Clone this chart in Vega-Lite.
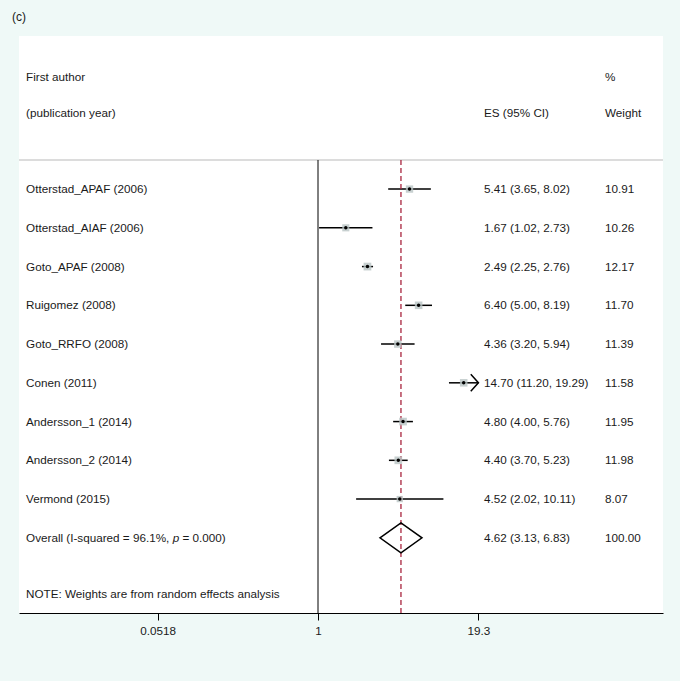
{
  "$schema": "https://vega.github.io/schema/vega-lite/v6.json",
  "width": 644,
  "height": 577,
  "autosize": {"type": "none"},
  "padding": {"left": 19, "top": 36, "right": 17, "bottom": 68},
  "background": "#eff9f7",
  "title": {"text": "(c)", "anchor": "start", "frame": "group", "dx": -7, "offset": 12, "fontSize": 12, "fontWeight": "normal", "color": "#1a1a1a", "font": "Liberation Sans"},
  "config": {
    "view": {"fill": "white", "stroke": null},
    "font": "Liberation Sans",
    "text": {"font": "Liberation Sans", "fontSize": 11.7, "color": "#1a1a1a", "align": "left", "baseline": "middle"},
    "axisX": {"grid": false, "domainColor": "#000000", "domainWidth": 1, "tickColor": "#000000", "tickWidth": 1, "tickSize": 7, "labelFont": "Liberation Sans", "labelFontSize": 11.7, "labelColor": "#1a1a1a", "labelPadding": 5, "labelFlush": false, "labelOverlap": false}
  },
  "datasets": {
    "studies": [
      {"label": "Otterstad_APAF (2006)", "r": 1, "es": 5.41, "lo": 3.65, "hi": 8.02, "weight": 10.91, "ci": "5.41 (3.65, 8.02)", "wt": "10.91"},
      {"label": "Otterstad_AIAF (2006)", "r": 2, "es": 1.67, "lo": 1.02, "hi": 2.73, "weight": 10.26, "ci": "1.67 (1.02, 2.73)", "wt": "10.26"},
      {"label": "Goto_APAF (2008)", "r": 3, "es": 2.49, "lo": 2.25, "hi": 2.76, "weight": 12.17, "ci": "2.49 (2.25, 2.76)", "wt": "12.17"},
      {"label": "Ruigomez (2008)", "r": 4, "es": 6.40, "lo": 5.00, "hi": 8.19, "weight": 11.70, "ci": "6.40 (5.00, 8.19)", "wt": "11.70"},
      {"label": "Goto_RRFO (2008)", "r": 5, "es": 4.36, "lo": 3.20, "hi": 5.94, "weight": 11.39, "ci": "4.36 (3.20, 5.94)", "wt": "11.39"},
      {"label": "Conen (2011)", "r": 6, "es": 14.70, "lo": 11.20, "hi": 19.29, "weight": 11.58, "ci": "14.70 (11.20, 19.29)", "wt": "11.58"},
      {"label": "Andersson_1 (2014)", "r": 7, "es": 4.80, "lo": 4.00, "hi": 5.76, "weight": 11.95, "ci": "4.80 (4.00, 5.76)", "wt": "11.95"},
      {"label": "Andersson_2 (2014)", "r": 8, "es": 4.40, "lo": 3.70, "hi": 5.23, "weight": 11.98, "ci": "4.40 (3.70, 5.23)", "wt": "11.98"},
      {"label": "Vermond (2015)", "r": 9, "es": 4.52, "lo": 2.02, "hi": 10.11, "weight": 8.07, "ci": "4.52 (2.02, 10.11)", "wt": "8.07"}
    ],
    "overall": [
      {"label": "Overall (I-squared = 96.1%,", "r": 10, "es": 4.62, "lo": 3.13, "hi": 6.83, "weight": 100.0, "ci": "4.62 (3.13, 6.83)", "wt": "100.00"}
    ]
  },
  "layer": [
    {
      "data": {"values": [{"r": 0.25}]},
      "mark": {"type": "rule", "color": "#dcdcdc", "strokeWidth": 2},
      "encoding": {
        "y": {"field": "r", "type": "quantitative", "scale": {"domain": [-2.95, 11.94], "reverse": true, "nice": false, "zero": false}, "axis": null}
      }
    },
    {
      "data": {"name": "studies"},
      "mark": {"type": "rule", "color": "#000000", "strokeWidth": 1.5},
      "encoding": {
        "x": {"field": "lo", "type": "quantitative", "title": null, "scale": {"type": "log", "domain": [0.00402, 581], "nice": false}, "axis": {"values": [0.0518, 1, 19.3], "format": "~g", "title": null}},
        "x2": {"field": "hi"},
        "y": {"field": "r", "type": "quantitative", "axis": null}
      }
    },
    {
      "data": {"values": [{"x": 1, "y1": 0.25, "y2": 11.94}]},
      "mark": {"type": "rule", "color": "#000000", "strokeWidth": 1},
      "encoding": {
        "x": {"field": "x", "type": "quantitative", "title": null},
        "y": {"field": "y1", "type": "quantitative", "axis": null},
        "y2": {"field": "y2"}
      }
    },
    {
      "data": {"name": "overall"},
      "mark": {"type": "rule", "color": "#a8253e", "strokeWidth": 1.3, "strokeDash": [5, 3]},
      "encoding": {
        "x": {"field": "es", "type": "quantitative", "title": null},
        "y": {"datum": 0.25, "type": "quantitative", "axis": null},
        "y2": {"datum": 11.94}
      }
    },
    {
      "data": {"name": "studies"},
      "mark": {"type": "point", "shape": "square", "filled": true, "color": "#b9c4c4", "opacity": 0.8},
      "encoding": {
        "x": {"field": "es", "type": "quantitative", "title": null},
        "y": {"field": "r", "type": "quantitative", "axis": null},
        "size": {"field": "weight", "type": "quantitative", "scale": {"domain": [0, 12.17], "range": [0, 60], "zero": true}, "legend": null}
      }
    },
    {
      "data": {"name": "studies"},
      "mark": {"type": "point", "shape": "circle", "filled": true, "color": "#000000", "size": 12, "opacity": 1},
      "encoding": {
        "x": {"field": "es", "type": "quantitative", "title": null},
        "y": {"field": "r", "type": "quantitative", "axis": null}
      }
    },
    {
      "data": {"name": "studies"},
      "transform": [{"filter": "datum.hi > 19"}],
      "mark": {"type": "point", "shape": "M -0.9 -1 L 0 0 L -0.9 1", "filled": false, "stroke": "#000000", "strokeWidth": 1.5, "size": 289, "opacity": 1},
      "encoding": {
        "x": {"field": "hi", "type": "quantitative", "title": null},
        "y": {"field": "r", "type": "quantitative", "axis": null}
      }
    },
    {
      "data": {"name": "overall"},
      "mark": {"type": "point", "shape": "M -1 0 L 0 -0.714 L 1 0 L 0 0.714 Z", "filled": false, "stroke": "#000000", "strokeWidth": 1.5, "size": 1764, "opacity": 1},
      "encoding": {
        "x": {"field": "es", "type": "quantitative", "title": null},
        "y": {"field": "r", "type": "quantitative", "axis": null}
      }
    },
    {
      "data": {"name": "studies"},
      "mark": {"type": "text"},
      "encoding": {
        "x": {"datum": 0.00458, "type": "quantitative", "title": null},
        "y": {"field": "r", "type": "quantitative", "axis": null},
        "text": {"field": "label"}
      }
    },
    {
      "data": {"name": "overall"},
      "mark": {"type": "text"},
      "encoding": {
        "x": {"datum": 0.00458, "type": "quantitative", "title": null},
        "y": {"field": "r", "type": "quantitative", "axis": null},
        "text": {"field": "label"}
      }
    },
    {
      "data": {"name": "overall"},
      "mark": {"type": "text", "fontStyle": "italic", "dx": 146.6},
      "encoding": {
        "x": {"datum": 0.00458, "type": "quantitative", "title": null},
        "y": {"field": "r", "type": "quantitative", "axis": null},
        "text": {"value": "p"}
      }
    },
    {
      "data": {"name": "overall"},
      "mark": {"type": "text", "dx": 156.4},
      "encoding": {
        "x": {"datum": 0.00458, "type": "quantitative", "title": null},
        "y": {"field": "r", "type": "quantitative", "axis": null},
        "text": {"value": "= 0.000)"}
      }
    },
    {
      "data": {"values": [
        {"t": "First author", "r": -1.9},
        {"t": "(publication year)", "r": -0.96},
        {"t": "NOTE: Weights are from random effects analysis", "r": 11.45}
      ]},
      "mark": {"type": "text"},
      "encoding": {
        "x": {"datum": 0.00458, "type": "quantitative", "title": null},
        "y": {"field": "r", "type": "quantitative", "axis": null},
        "text": {"field": "t"}
      }
    },
    {
      "data": {"name": "studies"},
      "mark": {"type": "text"},
      "encoding": {
        "x": {"datum": 21.39, "type": "quantitative", "title": null},
        "y": {"field": "r", "type": "quantitative", "axis": null},
        "text": {"field": "ci"}
      }
    },
    {
      "data": {"name": "overall"},
      "mark": {"type": "text"},
      "encoding": {
        "x": {"datum": 21.39, "type": "quantitative", "title": null},
        "y": {"field": "r", "type": "quantitative", "axis": null},
        "text": {"field": "ci"}
      }
    },
    {
      "data": {"values": [{"t": "ES (95% CI)", "r": -0.96}]},
      "mark": {"type": "text"},
      "encoding": {
        "x": {"datum": 21.39, "type": "quantitative", "title": null},
        "y": {"field": "r", "type": "quantitative", "axis": null},
        "text": {"field": "t"}
      }
    },
    {
      "data": {"name": "studies"},
      "mark": {"type": "text"},
      "encoding": {
        "x": {"datum": 199.4, "type": "quantitative", "title": null},
        "y": {"field": "r", "type": "quantitative", "axis": null},
        "text": {"field": "wt"}
      }
    },
    {
      "data": {"name": "overall"},
      "mark": {"type": "text"},
      "encoding": {
        "x": {"datum": 199.4, "type": "quantitative", "title": null},
        "y": {"field": "r", "type": "quantitative", "axis": null},
        "text": {"field": "wt"}
      }
    },
    {
      "data": {"values": [{"t": "%", "r": -1.9}, {"t": "Weight", "r": -0.96}]},
      "mark": {"type": "text"},
      "encoding": {
        "x": {"datum": 199.4, "type": "quantitative", "title": null},
        "y": {"field": "r", "type": "quantitative", "axis": null},
        "text": {"field": "t"}
      }
    }
  ]
}
